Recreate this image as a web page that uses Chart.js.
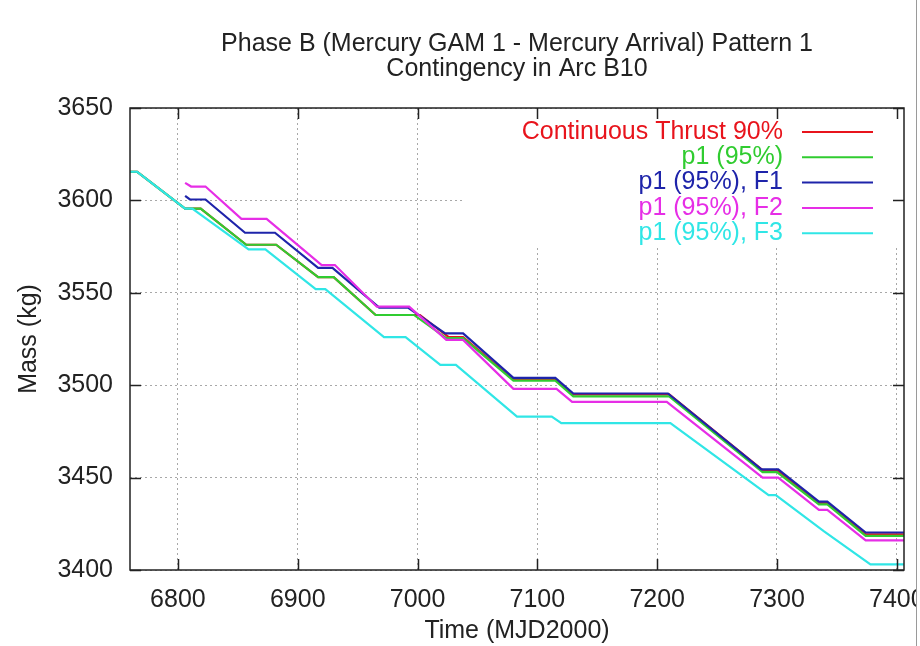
<!DOCTYPE html>
<html>
<head>
<meta charset="utf-8">
<script src="https://cdn.jsdelivr.net/npm/chart.js@4.4.1/dist/chart.umd.min.js"></script>
<style>
  html, body { margin: 0; padding: 0; background: #fff; }
  #wrap { width: 916px; height: 646px; overflow: hidden; border-right: 1px solid #9a9a9a; }
  canvas { display: block; }
</style>
</head>
<body>
<div id="wrap"><canvas id="chart" width="940" height="646"></canvas></div>
<script>
    // Axis ticks
    const xTicks = [6800, 6900, 7000, 7100, 7200, 7300, 7400];
    const yTicks = [3400, 3450, 3500, 3550, 3600, 3650];

    // Series names, in legend order
    const seriesNames = ['Continuous Thrust 90%', 'p1 (95%)', 'p1 (95%), F1', 'p1 (95%), F2', 'p1 (95%), F3'];

    // Continuous Thrust 90% (mostly hidden under p1)
    const tRed = [6760, 6766, 6806, 6819, 6857, 6882, 6917, 6930, 6965, 7002, 7026, 7038, 7080, 7115, 7130, 7210, 7288, 7300, 7335, 7342, 7374, 7406];
    const mRed = [3615.5, 3615.5, 3595.5, 3595.5, 3576, 3576, 3558.5, 3558.5, 3538, 3538, 3526, 3526, 3503, 3503, 3495, 3495, 3454, 3454, 3436.3, 3436.3, 3419.3, 3419.3];

    // p1 (95%)
    const tGreen = [6760, 6766, 6806, 6819, 6857, 6882, 6917, 6930, 6965, 6997, 7024, 7038, 7080, 7115, 7130, 7210, 7288, 7300, 7335, 7342, 7374, 7406];
    const mGreen = [3615.5, 3615.5, 3595.5, 3595.5, 3576, 3576, 3558.5, 3558.5, 3538, 3538, 3525.5, 3525.5, 3502.5, 3502.5, 3494, 3494, 3453, 3453, 3435.5, 3435.5, 3418.5, 3418.5];

    // p1 (95%), F1
    const tBlue = [6806, 6810, 6823, 6856, 6881, 6917, 6929, 6968, 6992, 7023, 7038, 7080, 7115, 7130, 7209, 7287, 7301, 7335, 7342, 7374, 7406];
    const mBlue = [3602.5, 3600.5, 3600.5, 3582.5, 3582.5, 3563.5, 3563.5, 3542, 3542, 3528, 3528, 3504, 3504, 3495.5, 3495.5, 3454.5, 3454.5, 3437, 3437, 3420.3, 3420.3];

    // p1 (95%), F2
    const tMagenta = [6806, 6811, 6823, 6853, 6874, 6920, 6931, 6966, 6993, 7024, 7038, 7080, 7116, 7129, 7208, 7288, 7301, 7335, 7342, 7374, 7406];
    const mMagenta = [3609.5, 3607.5, 3607.5, 3590, 3590, 3565, 3565, 3542.5, 3542.5, 3524.5, 3524.5, 3498, 3498, 3491, 3491, 3450, 3450, 3432.5, 3432.5, 3416, 3416];

    // p1 (95%), F3
    const tCyan = [6760, 6766, 6806, 6812, 6859, 6873, 6915, 6923, 6972, 6990, 7019, 7032, 7083, 7112, 7120, 7211, 7293, 7299, 7339, 7378, 7406];
    const mCyan = [3615.5, 3615.5, 3595.5, 3595.5, 3573.5, 3573.5, 3552, 3552, 3526, 3526, 3511, 3511, 3483, 3483, 3479.5, 3479.5, 3440.5, 3440.5, 3421, 3403, 3403];

    const colors = ['#e8141c', '#30cc30', '#1e24aa', '#e62ee6', '#30e6e6'];
    const font = "'Liberation Sans', Arial, sans-serif";
    const textColor = '#222';

    function toPoints(ts, ms) {
        return ts.map((t, i) => ({ x: t, y: ms[i] }));
    }

    const allT = [tRed, tGreen, tBlue, tMagenta, tCyan];
    const allM = [mRed, mGreen, mBlue, mMagenta, mCyan];

    // Legend box (gnuplot style: text right-aligned, sample line on the right)
    // plus frame with inward ticks on all four sides
    const framePlugin = {
        id: 'frame',
        beforeDatasetsDraw(chart) {
            const ctx = chart.ctx;
            const a = chart.chartArea;
            // opaque legend area hides the grid behind it
            ctx.save();
            ctx.fillStyle = '#fff';
            ctx.fillRect(a.left + 335, a.top + 1, a.right - a.left - 336, 137);
            ctx.restore();
        },
        afterDatasetsDraw(chart) {
            const ctx = chart.ctx;
            const a = chart.chartArea;
            ctx.save();

            // legend
            ctx.font = '25px ' + font;
            ctx.textAlign = 'right';
            ctx.textBaseline = 'middle';
            chart.data.datasets.forEach((ds, i) => {
                const y = a.top + 24 + i * 25.3;
                ctx.fillStyle = ds.borderColor;
                ctx.fillText(ds.label, a.right - 121, y);
                ctx.strokeStyle = ds.borderColor;
                ctx.lineWidth = 2;
                ctx.beginPath();
                ctx.moveTo(a.right - 102, y);
                ctx.lineTo(a.right - 31, y);
                ctx.stroke();
            });

            // frame
            ctx.strokeStyle = '#222';
            ctx.lineWidth = 1.5;
            ctx.strokeRect(a.left, a.top, a.right - a.left, a.bottom - a.top);

            // inward ticks
            const xs = chart.scales.x, ys = chart.scales.y;
            const len = 11;
            ctx.beginPath();
            xTicks.forEach(v => {
                const px = Math.round(xs.getPixelForValue(v)) + 0.5;
                ctx.moveTo(px, a.bottom); ctx.lineTo(px, a.bottom - len);
                ctx.moveTo(px, a.top); ctx.lineTo(px, a.top + len);
            });
            yTicks.forEach(v => {
                const py = Math.round(ys.getPixelForValue(v)) + 0.5;
                ctx.moveTo(a.left, py); ctx.lineTo(a.left + len, py);
                ctx.moveTo(a.right, py); ctx.lineTo(a.right - len, py);
            });
            ctx.stroke();
            ctx.restore();
        }
    };

    new Chart(document.getElementById('chart'), {
        type: 'line',
        data: {
            datasets: seriesNames.map((name, i) => ({
                label: name,
                data: toPoints(allT[i], allM[i]),
                borderColor: colors[i],
                backgroundColor: colors[i],
                borderWidth: 2.2,
                pointRadius: 0,
                tension: 0,
                fill: false,
                order: 5 - i // later series drawn on top, as in gnuplot
            }))
        },
        options: {
            responsive: false,
            animation: false,
            devicePixelRatio: 1,
            layout: {
                padding: { left: 0, top: 20, right: 36, bottom: 0 }
            },
            plugins: {
                legend: { display: false },
                tooltip: { enabled: false },
                title: {
                    display: true,
                    fullSize: false,
                    text: ['Phase B (Mercury GAM 1 - Mercury Arrival) Pattern 1', 'Contingency in Arc B10'],
                    color: textColor,
                    font: { family: font, size: 25, weight: 'normal', lineHeight: 0.98 },
                    padding: { top: 12, bottom: 27 }
                }
            },
            scales: {
                x: {
                    type: 'linear',
                    min: 6760,
                    max: 7406,
                    afterBuildTicks: scale => { scale.ticks = xTicks.map(v => ({ value: v })); },
                    afterFit: scale => {
                        scale.height = 76;
                        scale.paddingLeft = 0;
                        scale.paddingRight = 0;
                    },
                    grid: { color: '#a8a8a8', lineWidth: 1, drawTicks: false },
                    border: { display: false, dash: [2, 3] },
                    ticks: {
                        padding: 15,
                        maxRotation: 0,
                        autoSkip: false,
                        color: textColor,
                        font: { family: font, size: 25 },
                        callback: v => String(v)
                    },
                    title: {
                        display: true,
                        text: 'Time (MJD2000)',
                        color: textColor,
                        font: { family: font, size: 25 },
                        padding: 0
                    }
                },
                y: {
                    type: 'linear',
                    min: 3400,
                    max: 3650,
                    afterBuildTicks: scale => { scale.ticks = yTicks.map(v => ({ value: v })); },
                    afterFit: scale => {
                        scale.width = 130;
                        scale.paddingTop = 0;
                        scale.paddingBottom = 0;
                    },
                    grid: { color: '#a8a8a8', lineWidth: 1, drawTicks: false },
                    border: { display: false, dash: [2, 3] },
                    ticks: {
                        padding: 17,
                        autoSkip: false,
                        color: textColor,
                        font: { family: font, size: 25 },
                        callback: v => String(v)
                    },
                    title: {
                        display: true,
                        text: 'Mass (kg)',
                        color: textColor,
                        font: { family: font, size: 25 },
                        padding: { top: 14, bottom: 0 }
                    }
                }
            }
        },
        plugins: [framePlugin]
    });
</script>
</body>
</html>
